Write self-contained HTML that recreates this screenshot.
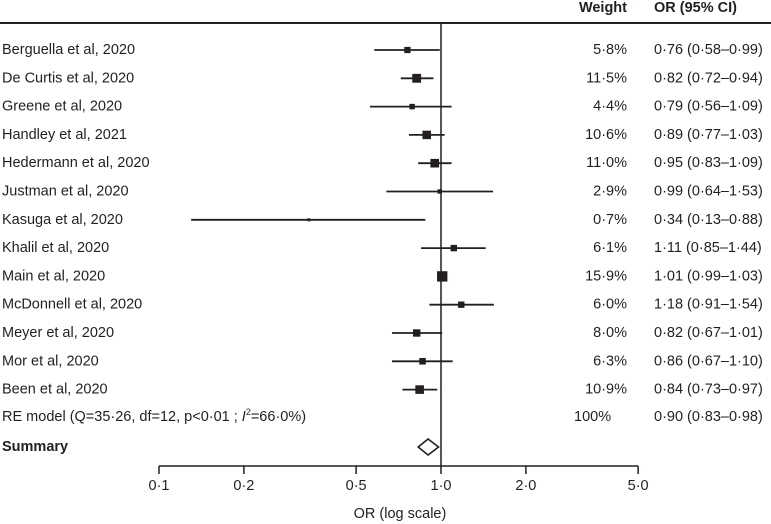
<!DOCTYPE html>
<html><head><meta charset="utf-8"><style>
html,body{margin:0;padding:0;background:#fff}
svg{display:block}
text{font-family:"Liberation Sans",sans-serif;font-size:14.5px;fill:#231f20}
</style></head><body>
<svg width="771" height="524" viewBox="0 0 771 524">
<g id="static"></g>
</svg>
<script>
const studies=["Berguella et al, 2020","De Curtis et al, 2020","Greene et al, 2020","Handley et al, 2021","Hedermann et al, 2020","Justman et al, 2020","Kasuga et al, 2020","Khalil et al, 2020","Main et al, 2020","McDonnell et al, 2020","Meyer et al, 2020","Mor et al, 2020","Been et al, 2020"];
const orVals=[0.76,0.82,0.79,0.89,0.95,0.99,0.34,1.11,1.01,1.18,0.82,0.86,0.84];
const lowVals=[0.58,0.72,0.56,0.77,0.83,0.64,0.13,0.85,0.99,0.91,0.67,0.67,0.73];
const highVals=[0.99,0.94,1.09,1.03,1.09,1.53,0.88,1.44,1.03,1.54,1.01,1.10,0.97];
const weights=[5.8,11.5,4.4,10.6,11.0,2.9,0.7,6.1,15.9,6.0,8.0,6.3,10.9];
const weightLabels=["5·8%","11·5%","4·4%","10·6%","11·0%","2·9%","0·7%","6·1%","15·9%","6·0%","8·0%","6·3%","10·9%"];
const ciLabels=["0·76 (0·58–0·99)","0·82 (0·72–0·94)","0·79 (0·56–1·09)","0·89 (0·77–1·03)","0·95 (0·83–1·09)","0·99 (0·64–1·53)","0·34 (0·13–0·88)","1·11 (0·85–1·44)","1·01 (0·99–1·03)","1·18 (0·91–1·54)","0·82 (0·67–1·01)","0·86 (0·67–1·10)","0·84 (0·73–0·97)"];
const summaryOR=[0.90,0.83,0.98];
const ticks=[0.1,0.2,0.5,1.0,2.0,5.0];
const tickLabels=["0·1","0·2","0·5","1·0","2·0","5·0"];

const NS="http://www.w3.org/2000/svg";
const svg=document.querySelector("svg");
function xs(v){return 441+Math.log10(v)*282;}
function ys(i){return 50+i*28.3;}
function mk(tag,attrs,parent){const e=document.createElementNS(NS,tag);for(const k in attrs)e.setAttribute(k,attrs[k]);(parent||svg).appendChild(e);return e;}
function txt(x,y,s,anchor,bold){const t=mk("text",{x:x,y:y,"text-anchor":anchor||"start","dominant-baseline":"central"});if(bold)t.setAttribute("font-weight","bold");t.textContent=s;return t;}

let e;
e=txt(627,8,"Weight","end",true);


e=txt(654,8,"OR (95% CI)","start",true);


e=mk("line",{x1:0,x2:771,y1:23,y2:23,stroke:"#231f20","stroke-width":2});


e=mk("line",{x1:xs(1),x2:xs(1),y1:23,y2:466,stroke:"#231f20","stroke-width":1.5});



studies.forEach((s,i)=>{
  const y=ys(i);
  let t=txt(2,y,s);
  
  
  let l=mk("line",{x1:xs(lowVals[i]),x2:xs(highVals[i]),y1:y,y2:y,stroke:"#231f20","stroke-width":1.8});
  
  
  const sz=Math.max(3,2.6*Math.sqrt(weights[i]));
  let r=mk("rect",{x:xs(orVals[i])-sz/2,y:y-sz/2,width:sz,height:sz,fill:"#231f20"});
  
  
  let w=txt(627,y,weightLabels[i],"end");
  
  
  let c=txt(654,y,ciLabels[i]);
  
  
});

const re=mk("text",{x:2,y:417,"dominant-baseline":"central"});
re.innerHTML='RE model (Q=35·26, df=12, p&lt;0·01 ; <tspan font-style="italic">I</tspan><tspan dy="-5" font-size="9">2</tspan><tspan dy="5">=66·0%)</tspan>';


e=txt(574,417,"100%");


e=txt(654,417,"0·90 (0·83–0·98)");


e=txt(2,447,"Summary","start",true);


const dx1=xs(summaryOR[1]),dx2=xs(summaryOR[2]),dc=xs(summaryOR[0]),dy=447;
e=mk("polygon",{points:`${dx1},${dy} ${dc},${dy-8} ${dx2},${dy} ${dc},${dy+8}`,fill:"#fff",stroke:"#231f20","stroke-width":1.6});



e=mk("line",{x1:xs(ticks[0]),x2:xs(ticks[ticks.length-1]),y1:466,y2:466,stroke:"#231f20","stroke-width":1.5});


ticks.forEach((v,i)=>{
  let tk=mk("line",{x1:xs(v),x2:xs(v),y1:466,y2:474,stroke:"#231f20","stroke-width":1.5});
  
  
  let tl=txt(xs(v),486,tickLabels[i],"middle");
  
  
});
e=txt(400,514,"OR (log scale)","middle");


</script>
</body></html>
